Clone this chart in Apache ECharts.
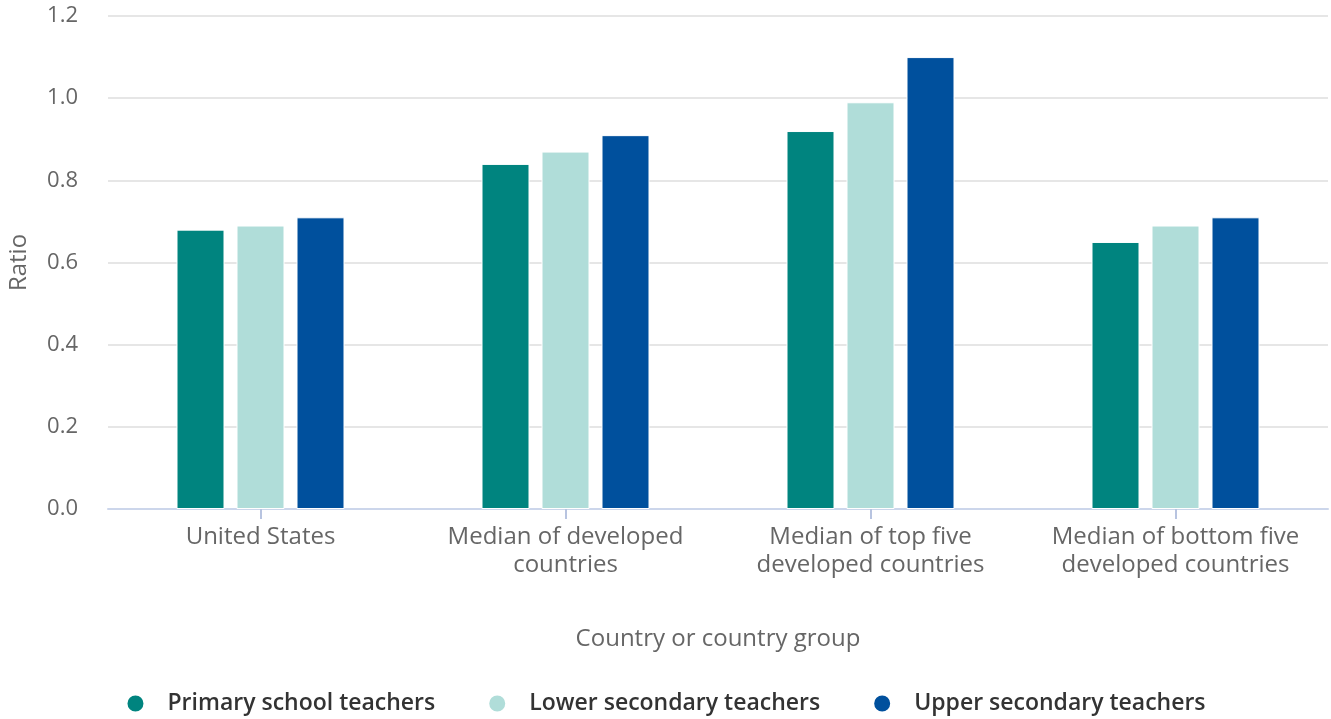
<!DOCTYPE html>
<html>
<head>
<meta charset="utf-8">
<script src="https://cdn.jsdelivr.net/npm/echarts@6/dist/echarts.min.js"></script>
<style>
  html, body { margin: 0; padding: 0; background: #fff; }
  #chart { width: 1331px; height: 719px; }
</style>
</head>
<body>
<div id="chart"></div>
<script>
const categories = [
  "United States",
  "Median of developed\ncountries",
  "Median of top five\ndeveloped countries",
  "Median of bottom five\ndeveloped countries"
];
const primaryTeachers = [0.68, 0.84, 0.92, 0.65];
const lowerSecondary = [0.69, 0.87, 0.99, 0.69];
const upperSecondary = [0.71, 0.91, 1.1, 0.71];
const seriesNames = ["Primary school teachers", "Lower secondary teachers", "Upper secondary teachers"];
const colors = ["#00847f", "#b0ddd9", "#00509d"];

const chart = echarts.init(document.getElementById("chart"));
const font = "'Open Sans', sans-serif";

const makeSeries = (name, data, color) => ({
  name,
  type: "bar",
  data,
  barWidth: 48,
  barGap: "25%",
  itemStyle: { color, borderColor: "#fff", borderWidth: 1 },
  animation: false
});

chart.setOption({
  backgroundColor: "#fff",
  textStyle: { fontFamily: font },
  grid: { left: 108, right: 3, top: 16, bottom: 210, outerBoundsMode: "none", containLabel: false },
  legend: {
    bottom: -1,
    left: "center",
    icon: "circle",
    itemWidth: 18,
    itemHeight: 18,
    itemGap: 52,
    textStyle: { fontSize: 23, color: "#333", fontWeight: 600, fontFamily: font, padding: [0, 0, 0, 18] },
    data: seriesNames
  },
  xAxis: {
    type: "category",
    data: categories,
    name: "Country or country group",
    nameLocation: "middle",
    nameGap: 118,
    nameTextStyle: { fontSize: 24, color: "#666" },
    axisLine: { show: true, onZero: false, lineStyle: { color: "#ccd6eb", width: 2 } },
    axisTick: { show: true, alignWithLabel: true, length: 10, lineStyle: { color: "#b8c4e0", width: 2 } },
    axisLabel: { interval: 0, fontSize: 24, color: "#666", lineHeight: 28, margin: 14 }
  },
  yAxis: {
    type: "value",
    min: 0,
    max: 1.2,
    interval: 0.2,
    name: "Ratio",
    nameLocation: "middle",
    nameGap: 77,
    nameTextStyle: { fontSize: 24, color: "#666" },
    axisLabel: { fontSize: 22, color: "#666", margin: 30, formatter: (v) => v.toFixed(1) },
    splitLine: { lineStyle: { color: "#e6e6e6", width: 2 } }
  },
  series: [
    makeSeries(seriesNames[0], primaryTeachers, colors[0]),
    makeSeries(seriesNames[1], lowerSecondary, colors[1]),
    makeSeries(seriesNames[2], upperSecondary, colors[2])
  ]
});
</script>
</body>
</html>
